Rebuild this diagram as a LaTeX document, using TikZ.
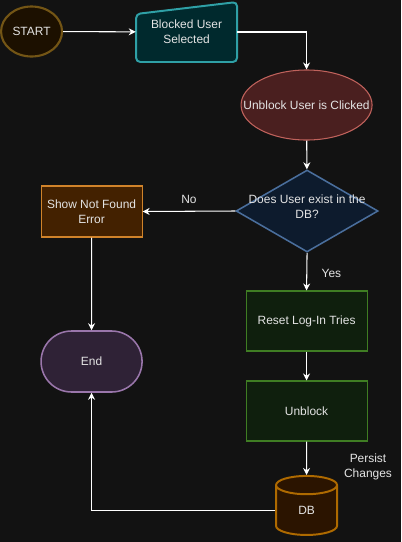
\documentclass[tikz,border=0pt]{standalone}
\usepackage{fontspec}
\setmainfont{Liberation Sans}
\usepackage{xcolor}
\usetikzlibrary{arrows.meta, calc, shapes.geometric, shapes.misc}

\definecolor{canvas}{HTML}{121212}
\definecolor{inktext}{HTML}{E4E4E4}
\definecolor{startfill}{HTML}{1C1000}
\definecolor{startline}{HTML}{735515}
\definecolor{infill}{HTML}{00292D}
\definecolor{inline}{HTML}{2FA0A6}
\definecolor{evfill}{HTML}{4A1F1F}
\definecolor{evline}{HTML}{C0625C}
\definecolor{decfill}{HTML}{0D1B2D}
\definecolor{decline}{HTML}{4A6E9C}
\definecolor{errfill}{HTML}{432100}
\definecolor{errline}{HTML}{D0832A}
\definecolor{endfill}{HTML}{2F2236}
\definecolor{endline}{HTML}{9A76AB}
\definecolor{actfill}{HTML}{0F1F0D}
\definecolor{actline}{HTML}{3F7D23}
\definecolor{dbfill}{HTML}{2B1400}
\definecolor{dbline}{HTML}{AE6A00}

\begin{document}
\begin{tikzpicture}[x=0.025cm, y=-0.025cm, >={Stealth[length=5pt, width=5pt]},
  every node/.style={font=\fontsize{8.5}{10.7}\selectfont, text=inktext, align=center, inner sep=0pt},
  flow/.style={->, draw=white, line width=0.75pt},
  startshape/.style={ellipse, draw=startline, fill=startfill, line width=1.5pt, minimum width=1.525cm, minimum height=1.25cm},
  inshape/.style={draw=inline, fill=infill, line width=1.4pt, rounded corners=3pt},
  eventshape/.style={ellipse, draw=evline, fill=evfill, line width=0.75pt, minimum width=3.275cm, minimum height=1.75cm},
  decide/.style={diamond, draw=decline, fill=decfill, line width=1.1pt, minimum width=3.55cm, minimum height=2.05cm},
  errbox/.style={rectangle, draw=errline, fill=errfill, line width=0.75pt, minimum width=2.525cm, minimum height=1.275cm},
  stopshape/.style={rounded rectangle, draw=endline, fill=endfill, line width=1.1pt, minimum width=2.525cm, minimum height=1.525cm},
  actbox/.style={rectangle, draw=actline, fill=actfill, line width=0.75pt, minimum width=3.025cm, minimum height=1.5cm},
  store/.style={cylinder, shape border rotate=90, aspect=1.1, draw=dbline, fill=dbfill, line width=1.4pt, minimum width=1.525cm, minimum height=1.475cm}]
  \fill[canvas] (0,0) rectangle (401,542);
  \node[startshape] (start) at (31.5,31.5) {START};
  \draw[inshape] (136,14) -- (237,2) -- (237,62) -- (136,62) -- cycle;
  \node[minimum width=2.525cm, minimum height=1.5cm] (blocked) at (186.5,32) {Blocked User\\Selected};
  \node[eventshape] (clicked) at (306.5,105) {\makebox[0pt]{Unblock User is Clicked}};
  \node[decide] (exists) at (307,211) {\smash{\makebox[0pt]{\begin{tabular}{@{}c@{}}Does User exist in the\\DB?\end{tabular}}}};
  \node[errbox] (notfound) at (91.5,211.5) {Show Not Found\\Error};
  \node[stopshape] (finish) at (91.5,361.5) {End};
  \node[actbox] (reset) at (306.5,321) {Reset Log-In Tries};
  \node[actbox] (unblock) at (306.5,411) {Unblock};
  \node[store] (db) at (306.5,510.5) {DB};
  \draw[flow] (start) -- (blocked);
  \draw[flow] (blocked.east) -| (clicked.north);
  \draw[flow] (clicked) -- (exists);
  \draw[flow] (exists.west) -- (notfound.east) node[midway, above=0.17cm] {No};
  \draw[flow] (exists.south) -- (reset.north) node[pos=0.56, right=0.36cm] {Yes};
  \draw[flow] (notfound) -- (finish);
  \draw[flow] (reset) -- (unblock);
  \draw[flow] (unblock) -- (db) node[pos=0.75, right=0.925cm] {Persist\\Changes};
  \draw[flow] (db.west) -| (finish.south);
\end{tikzpicture}
\end{document}
